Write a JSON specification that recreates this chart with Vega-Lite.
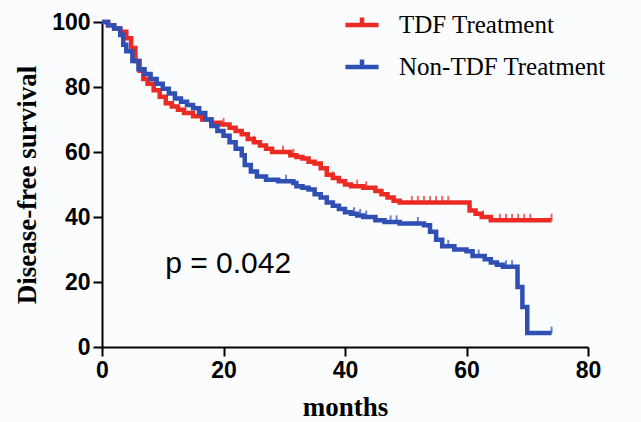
{
  "$schema": "https://vega.github.io/schema/vega-lite/v6.json",
  "width": 486,
  "height": 325,
  "autosize": {"type": "none"},
  "padding": {"left": 102, "top": 22, "right": 53, "bottom": 75},
  "background": "#fbfcfe",
  "datasets": {
    "curves": [
      {"group": "TDF Treatment", "month": 0, "survival": 100},
      {"group": "TDF Treatment", "month": 1, "survival": 99},
      {"group": "TDF Treatment", "month": 2, "survival": 98},
      {"group": "TDF Treatment", "month": 3, "survival": 97},
      {"group": "TDF Treatment", "month": 4, "survival": 95},
      {"group": "TDF Treatment", "month": 4.8, "survival": 92},
      {"group": "TDF Treatment", "month": 5.5, "survival": 88},
      {"group": "TDF Treatment", "month": 6.2, "survival": 85},
      {"group": "TDF Treatment", "month": 6.8, "survival": 82.5},
      {"group": "TDF Treatment", "month": 7.5, "survival": 81},
      {"group": "TDF Treatment", "month": 8.5, "survival": 79},
      {"group": "TDF Treatment", "month": 9.5, "survival": 77},
      {"group": "TDF Treatment", "month": 10.5, "survival": 75},
      {"group": "TDF Treatment", "month": 11.5, "survival": 74},
      {"group": "TDF Treatment", "month": 12.5, "survival": 73},
      {"group": "TDF Treatment", "month": 13.5, "survival": 72},
      {"group": "TDF Treatment", "month": 15, "survival": 71},
      {"group": "TDF Treatment", "month": 16.5, "survival": 70},
      {"group": "TDF Treatment", "month": 18, "survival": 69},
      {"group": "TDF Treatment", "month": 19.5, "survival": 68.5},
      {"group": "TDF Treatment", "month": 21, "survival": 67.5},
      {"group": "TDF Treatment", "month": 22, "survival": 66.5},
      {"group": "TDF Treatment", "month": 23, "survival": 65.5},
      {"group": "TDF Treatment", "month": 24, "survival": 64},
      {"group": "TDF Treatment", "month": 25, "survival": 63},
      {"group": "TDF Treatment", "month": 26, "survival": 62},
      {"group": "TDF Treatment", "month": 27, "survival": 61},
      {"group": "TDF Treatment", "month": 28, "survival": 60},
      {"group": "TDF Treatment", "month": 31, "survival": 59},
      {"group": "TDF Treatment", "month": 32, "survival": 58.5},
      {"group": "TDF Treatment", "month": 33, "survival": 58},
      {"group": "TDF Treatment", "month": 34, "survival": 57},
      {"group": "TDF Treatment", "month": 35, "survival": 56.5},
      {"group": "TDF Treatment", "month": 36, "survival": 55},
      {"group": "TDF Treatment", "month": 37, "survival": 53},
      {"group": "TDF Treatment", "month": 38, "survival": 52},
      {"group": "TDF Treatment", "month": 39, "survival": 51},
      {"group": "TDF Treatment", "month": 40, "survival": 50},
      {"group": "TDF Treatment", "month": 41, "survival": 49.5},
      {"group": "TDF Treatment", "month": 43, "survival": 49},
      {"group": "TDF Treatment", "month": 45, "survival": 48},
      {"group": "TDF Treatment", "month": 46, "survival": 47},
      {"group": "TDF Treatment", "month": 47, "survival": 46},
      {"group": "TDF Treatment", "month": 48, "survival": 45},
      {"group": "TDF Treatment", "month": 49, "survival": 44.5},
      {"group": "TDF Treatment", "month": 60.5, "survival": 42},
      {"group": "TDF Treatment", "month": 61.5, "survival": 41},
      {"group": "TDF Treatment", "month": 62.5, "survival": 40},
      {"group": "TDF Treatment", "month": 64, "survival": 39},
      {"group": "TDF Treatment", "month": 74, "survival": 39},
      {"group": "Non-TDF Treatment", "month": 0, "survival": 100},
      {"group": "Non-TDF Treatment", "month": 1, "survival": 99},
      {"group": "Non-TDF Treatment", "month": 2, "survival": 98},
      {"group": "Non-TDF Treatment", "month": 3, "survival": 96},
      {"group": "Non-TDF Treatment", "month": 3.5, "survival": 93},
      {"group": "Non-TDF Treatment", "month": 4, "survival": 91},
      {"group": "Non-TDF Treatment", "month": 5, "survival": 88},
      {"group": "Non-TDF Treatment", "month": 6, "survival": 85.5},
      {"group": "Non-TDF Treatment", "month": 7, "survival": 84},
      {"group": "Non-TDF Treatment", "month": 8, "survival": 82.5},
      {"group": "Non-TDF Treatment", "month": 9, "survival": 81},
      {"group": "Non-TDF Treatment", "month": 10, "survival": 79.5},
      {"group": "Non-TDF Treatment", "month": 11, "survival": 78},
      {"group": "Non-TDF Treatment", "month": 12, "survival": 76.5},
      {"group": "Non-TDF Treatment", "month": 13, "survival": 75.5},
      {"group": "Non-TDF Treatment", "month": 14, "survival": 74.5},
      {"group": "Non-TDF Treatment", "month": 15, "survival": 73.5},
      {"group": "Non-TDF Treatment", "month": 16, "survival": 72},
      {"group": "Non-TDF Treatment", "month": 17, "survival": 70},
      {"group": "Non-TDF Treatment", "month": 18, "survival": 68},
      {"group": "Non-TDF Treatment", "month": 19, "survival": 66.5},
      {"group": "Non-TDF Treatment", "month": 20, "survival": 65},
      {"group": "Non-TDF Treatment", "month": 21, "survival": 63},
      {"group": "Non-TDF Treatment", "month": 22, "survival": 61},
      {"group": "Non-TDF Treatment", "month": 23, "survival": 59},
      {"group": "Non-TDF Treatment", "month": 23.5, "survival": 56},
      {"group": "Non-TDF Treatment", "month": 24.5, "survival": 54},
      {"group": "Non-TDF Treatment", "month": 25.5, "survival": 52.5},
      {"group": "Non-TDF Treatment", "month": 27, "survival": 51.5},
      {"group": "Non-TDF Treatment", "month": 29, "survival": 51},
      {"group": "Non-TDF Treatment", "month": 31.5, "survival": 50.5},
      {"group": "Non-TDF Treatment", "month": 32, "survival": 49.5},
      {"group": "Non-TDF Treatment", "month": 33, "survival": 49},
      {"group": "Non-TDF Treatment", "month": 34, "survival": 48.5},
      {"group": "Non-TDF Treatment", "month": 35, "survival": 47},
      {"group": "Non-TDF Treatment", "month": 36, "survival": 46},
      {"group": "Non-TDF Treatment", "month": 37, "survival": 44.5},
      {"group": "Non-TDF Treatment", "month": 38, "survival": 43.5},
      {"group": "Non-TDF Treatment", "month": 39, "survival": 42.5},
      {"group": "Non-TDF Treatment", "month": 40, "survival": 41.5},
      {"group": "Non-TDF Treatment", "month": 41, "survival": 41},
      {"group": "Non-TDF Treatment", "month": 42, "survival": 40.5},
      {"group": "Non-TDF Treatment", "month": 43, "survival": 40},
      {"group": "Non-TDF Treatment", "month": 45, "survival": 39},
      {"group": "Non-TDF Treatment", "month": 46.5, "survival": 38.5},
      {"group": "Non-TDF Treatment", "month": 49, "survival": 38},
      {"group": "Non-TDF Treatment", "month": 53, "survival": 37.5},
      {"group": "Non-TDF Treatment", "month": 54, "survival": 35.5},
      {"group": "Non-TDF Treatment", "month": 55, "survival": 33},
      {"group": "Non-TDF Treatment", "month": 56, "survival": 31},
      {"group": "Non-TDF Treatment", "month": 58, "survival": 30},
      {"group": "Non-TDF Treatment", "month": 60, "survival": 29.5},
      {"group": "Non-TDF Treatment", "month": 61, "survival": 28},
      {"group": "Non-TDF Treatment", "month": 63, "survival": 27},
      {"group": "Non-TDF Treatment", "month": 64, "survival": 26},
      {"group": "Non-TDF Treatment", "month": 65, "survival": 25.3},
      {"group": "Non-TDF Treatment", "month": 66, "survival": 24.7},
      {"group": "Non-TDF Treatment", "month": 68.4, "survival": 18.5},
      {"group": "Non-TDF Treatment", "month": 69.2, "survival": 12.3},
      {"group": "Non-TDF Treatment", "month": 70, "survival": 4.3},
      {"group": "Non-TDF Treatment", "month": 74, "survival": 4.3}
    ],
    "censor": [
      {"group": "TDF Treatment", "month": 20, "survival": 68.5},
      {"group": "TDF Treatment", "month": 25, "survival": 63},
      {"group": "TDF Treatment", "month": 29.8, "survival": 60},
      {"group": "TDF Treatment", "month": 31.5, "survival": 59},
      {"group": "TDF Treatment", "month": 38, "survival": 52},
      {"group": "TDF Treatment", "month": 42, "survival": 49.5},
      {"group": "TDF Treatment", "month": 43.5, "survival": 49},
      {"group": "TDF Treatment", "month": 51, "survival": 44.5},
      {"group": "TDF Treatment", "month": 52, "survival": 44.5},
      {"group": "TDF Treatment", "month": 53, "survival": 44.5},
      {"group": "TDF Treatment", "month": 54, "survival": 44.5},
      {"group": "TDF Treatment", "month": 55, "survival": 44.5},
      {"group": "TDF Treatment", "month": 56, "survival": 44.5},
      {"group": "TDF Treatment", "month": 57, "survival": 44.5},
      {"group": "TDF Treatment", "month": 62.7, "survival": 40},
      {"group": "TDF Treatment", "month": 65.5, "survival": 39},
      {"group": "TDF Treatment", "month": 66.5, "survival": 39},
      {"group": "TDF Treatment", "month": 67.5, "survival": 39},
      {"group": "TDF Treatment", "month": 68.5, "survival": 39},
      {"group": "TDF Treatment", "month": 69.5, "survival": 39},
      {"group": "TDF Treatment", "month": 70.5, "survival": 39},
      {"group": "TDF Treatment", "month": 74, "survival": 39},
      {"group": "Non-TDF Treatment", "month": 30.3, "survival": 51},
      {"group": "Non-TDF Treatment", "month": 41.5, "survival": 41},
      {"group": "Non-TDF Treatment", "month": 42.5, "survival": 40.5},
      {"group": "Non-TDF Treatment", "month": 43.5, "survival": 40},
      {"group": "Non-TDF Treatment", "month": 47.5, "survival": 38.5},
      {"group": "Non-TDF Treatment", "month": 48.5, "survival": 38.5},
      {"group": "Non-TDF Treatment", "month": 52, "survival": 38},
      {"group": "Non-TDF Treatment", "month": 57, "survival": 31},
      {"group": "Non-TDF Treatment", "month": 62, "survival": 28},
      {"group": "Non-TDF Treatment", "month": 66.5, "survival": 24.7},
      {"group": "Non-TDF Treatment", "month": 67.5, "survival": 24.7},
      {"group": "Non-TDF Treatment", "month": 74, "survival": 4.3}
    ],
    "annot": [
      {"month": 10.4, "survival": 22.8, "label": "p = 0.042"}
    ]
  },
  "encoding": {
    "x": {
      "field": "month",
      "type": "quantitative",
      "scale": {"domain": [0, 80], "nice": false},
      "axis": {"values": [0, 20, 40, 60, 80], "title": "months", "titlePadding": 12, "labelFlush": false, "ticks": true, "tickSize": 9, "tickWidth": 2, "tickColor": "#000000"}
    },
    "y": {
      "field": "survival",
      "type": "quantitative",
      "scale": {"domain": [0, 100], "nice": false},
      "axis": {"values": [0, 20, 40, 60, 80, 100], "title": "Disease-free survival", "titlePadding": 10, "labelFlush": false, "ticks": true, "tickSize": 9, "tickWidth": 2, "tickColor": "#000000"}
    }
  },
  "layer": [
    {
      "data": {"name": "curves"},
      "mark": {"type": "line", "interpolate": "step-after", "strokeWidth": 4.5},
      "encoding": {
        "color": {
          "field": "group",
          "type": "nominal",
          "scale": {"domain": ["TDF Treatment", "Non-TDF Treatment"], "range": ["#ec2a24", "#2f4fb2"]},
          "legend": {
            "orient": "none",
            "legendX": 241,
            "legendY": -16,
            "title": null,
            "labelFont": "Liberation Serif",
            "labelFontSize": 25,
            "labelColor": "black",
            "labelLimit": 400,
            "symbolType": "M-1,0H1M0,0V-0.45",
            "symbolStrokeWidth": 4.5,
            "symbolSize": 1100,
            "labelOffset": 18,
            "rowPadding": 10
          }
        }
      }
    },
    {
      "data": {"name": "censor"},
      "mark": {"type": "tick", "orient": "vertical", "size": 7, "thickness": 2, "yOffset": -3},
      "encoding": {
        "color": {"field": "group", "type": "nominal", "legend": null}
      }
    },
    {
      "data": {"name": "annot"},
      "mark": {"type": "text", "align": "left", "baseline": "alphabetic", "font": "Liberation Sans", "fontSize": 30, "color": "black"},
      "encoding": {"text": {"field": "label"}}
    }
  ],
  "config": {
    "view": {"stroke": null},
    "axis": {
      "grid": false,
      "domainColor": "black",
      "domainWidth": 2,
      "labelFont": "Liberation Sans",
      "labelFontWeight": "bold",
      "labelFontSize": 23,
      "labelColor": "black",
      "labelPadding": 3,
      "titleFont": "Liberation Serif",
      "titleFontWeight": "bold",
      "titleFontSize": 27,
      "titleColor": "black"
    }
  }
}
